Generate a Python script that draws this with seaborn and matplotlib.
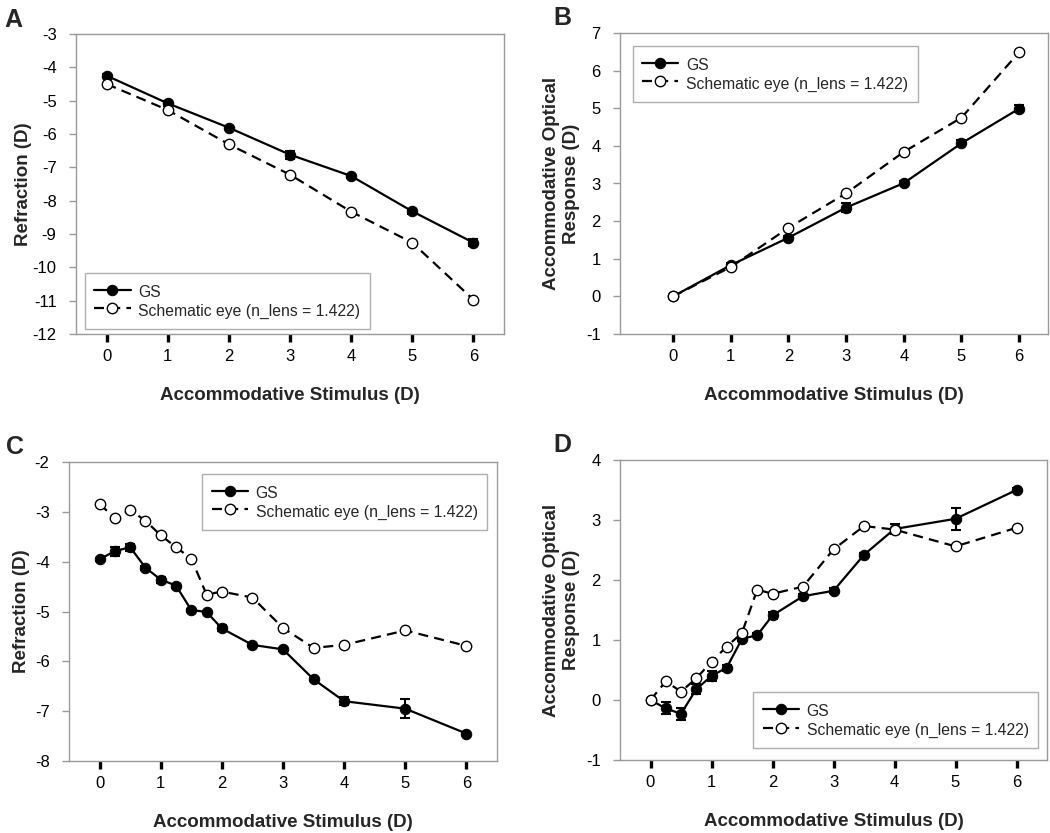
import numpy as np
import pandas as pd
import matplotlib
matplotlib.use("Agg")
import matplotlib.pyplot as plt
import matplotlib.lines as mlines
import seaborn as sns

sns.set_theme(style="ticks")
plt.rcParams['font.family'] = ['Liberation Sans', 'DejaVu Sans']
plt.rcParams['xtick.bottom'] = True
plt.rcParams['ytick.left'] = True
plt.rcParams['xtick.major.size'] = 5
plt.rcParams['ytick.major.size'] = 4
plt.rcParams['xtick.major.width'] = 2.2
plt.rcParams['ytick.major.width'] = 1.0
plt.rcParams['xtick.color'] = 'black'
plt.rcParams['ytick.color'] = '#9a9a9a'
plt.rcParams['ytick.labelcolor'] = 'black'
plt.rcParams['xtick.labelcolor'] = 'black'

# ---------------- data ----------------
stim_ab = [0, 1, 2, 3, 4, 5, 6]
a_gs = [-4.25, -5.08, -5.81, -6.62, -7.26, -8.32, -9.26]
a_gs_err = [0.04, 0.08, 0.05, 0.12, 0.05, 0.08, 0.10]
a_schem = [-4.50, -5.28, -6.31, -7.22, -8.33, -9.26, -10.97]

b_gs = [0.0, 0.83, 1.56, 2.36, 3.01, 4.07, 4.99]
b_gs_err = [0.03, 0.05, 0.05, 0.13, 0.05, 0.08, 0.10]
b_schem = [0.0, 0.78, 1.82, 2.74, 3.84, 4.75, 6.49]

stim_cd = [0, 0.25, 0.5, 0.75, 1, 1.25, 1.5, 1.75, 2, 2.5, 3, 3.5, 4, 5, 6]
c_gs = [-3.95, -3.79, -3.71, -4.12, -4.36, -4.48, -4.97, -5.01, -5.34,
        -5.67, -5.76, -6.36, -6.80, -6.95, -7.45]
c_gs_err = [0.03, 0.09, 0.07, 0.04, 0.06, 0.04, 0.03, 0.03, 0.06,
            0.03, 0.03, 0.03, 0.08, 0.19, 0.03]
c_schem = [-2.84, -3.13, -2.96, -3.18, -3.47, -3.71, -3.94, -4.66, -4.60,
           -4.72, -5.33, -5.73, -5.67, -5.38, -5.69]

d_gs = [0.0, -0.14, -0.23, 0.18, 0.40, 0.54, 1.02, 1.08, 1.41,
        1.73, 1.82, 2.42, 2.85, 3.02, 3.50]
d_gs_err = [0.02, 0.10, 0.10, 0.08, 0.08, 0.05, 0.03, 0.03, 0.06,
            0.04, 0.04, 0.03, 0.08, 0.18, 0.03]
d_schem = [0.0, 0.31, 0.14, 0.36, 0.64, 0.89, 1.12, 1.84, 1.77,
           1.89, 2.51, 2.90, 2.84, 2.56, 2.87]

label_gs = "GS"
label_schem = "Schematic eye (n_lens = 1.422)"
xlabel = "Accommodative Stimulus (D)"
ylabel_ref = "Refraction (D)"
ylabel_resp = "Accommodative Optical\nResponse (D)"
xtick_vals = [0, 1, 2, 3, 4, 5, 6]

# ---------------- figure ----------------
W, H = 1050, 833
fig = plt.figure(figsize=(W / 100, H / 100), dpi=100)

def add_ax(l, r, t, b):
    return fig.add_axes([l / W, 1 - b / H, (r - l) / W, (b - t) / H])

axA = add_ax(76, 504, 34, 334)
axB = add_ax(620, 1048, 33, 334)
axC = add_ax(69, 497, 462, 761)
axD = add_ax(620, 1047, 460, 760)

GRAY = '#9a9a9a'

def draw(ax, x, gs, gs_err, schem, xlim, ylim, yticks, ylabel, ylab_x,
         legend_loc, anchor):
    ax.errorbar(x, gs, yerr=gs_err, fmt='none', ecolor='black',
                elinewidth=1.5, capsize=3.5, capthick=1.5, zorder=2)
    sns.lineplot(x=x, y=gs, ax=ax, color='black', marker='o', markersize=7.5,
                 markerfacecolor='black', markeredgecolor='black',
                 linewidth=1.6, label=label_gs, zorder=3)
    sns.lineplot(x=x, y=schem, ax=ax, color='black', marker='o', markersize=7.5,
                 markerfacecolor='white', markeredgecolor='black', markeredgewidth=1.0,
                 linewidth=1.6, linestyle=(0, (4.5, 2.8)), label=label_schem, zorder=4)
    ax.set_xlim(*xlim)
    ax.set_ylim(*ylim)
    ax.set_xticks(xtick_vals)
    ax.set_yticks(yticks)
    ax.set_xticklabels([str(v) for v in xtick_vals])
    ax.set_yticklabels([str(v) for v in yticks])
    for s in ax.spines.values():
        s.set_visible(True)
        s.set_color(GRAY)
        s.set_linewidth(1.0)
        s.set_zorder(1)
    ax.tick_params(axis='x', which='major', direction='out', length=6, width=2.4,
                   color='black', labelcolor='black', labelsize=12, pad=5,
                   bottom=True, top=False, labelbottom=True)
    ax.tick_params(axis='y', which='major', direction='out', length=5, width=1.0,
                   color=GRAY, labelcolor='black', labelsize=12, pad=9,
                   left=True, right=False, labelleft=True)
    for t in ax.xaxis.get_major_ticks():
        t.tick1line.set_visible(True)
        t.tick1line.set_marker(mlines.TICKDOWN)
        t.tick1line.set_markersize(6)
        t.tick1line.set_markeredgewidth(2.4)
        t.tick1line.set_color('black')
        t.tick1line.set_markeredgecolor('black')
    for t in ax.yaxis.get_major_ticks():
        t.tick1line.set_visible(True)
        t.tick1line.set_marker(mlines.TICKLEFT)
        t.tick1line.set_markersize(5)
        t.tick1line.set_markeredgewidth(1.0)
        t.tick1line.set_color(GRAY)
        t.tick1line.set_markeredgecolor(GRAY)
    ax.set_xlabel(xlabel, fontsize=13.5, fontweight='bold', labelpad=16.5)
    ax.set_ylabel(ylabel, fontsize=13.5, fontweight='bold')
    ax.yaxis.set_label_coords(ylab_x, 0.5)
    leg = ax.legend(loc=legend_loc, bbox_to_anchor=anchor, borderaxespad=0,
                    frameon=True, fancybox=False, edgecolor=GRAY, fontsize=11.3,
                    handlelength=2.3, handletextpad=0.5, borderpad=0.6,
                    handleheight=1.4, labelspacing=0.05)
    leg.get_frame().set_linewidth(1.0)
    ax.grid(False)

draw(axA, stim_ab, a_gs, a_gs_err, a_schem, (-0.5, 6.5), (-12, -3),
     list(range(-12, -2)), ylabel_ref, -0.103, 'lower left', (0.021, 0.017))
draw(axB, stim_ab, b_gs, b_gs_err, b_schem, (-0.92, 6.5), (-1, 7),
     list(range(-1, 8)), ylabel_resp, -0.094, 'upper left', (0.03, 0.957))
draw(axC, stim_cd, c_gs, c_gs_err, c_schem, (-0.5, 6.5), (-8, -2),
     list(range(-8, -1)), ylabel_ref, -0.091, 'upper right', (0.977, 0.96))
draw(axD, stim_cd, d_gs, d_gs_err, d_schem, (-0.5, 6.5), (-1, 4),
     list(range(-1, 5)), ylabel_resp, -0.094, 'lower right', (0.979, 0.04))

for letter, x, y in [("A", 4, 20), ("B", 553, 18), ("C", 6, 447), ("D", 553, 445)]:
    fig.text(x / W, 1 - y / H, letter, fontsize=18, fontweight='bold',
             ha='left', va='center')

fig.savefig("out.png", dpi=100)
